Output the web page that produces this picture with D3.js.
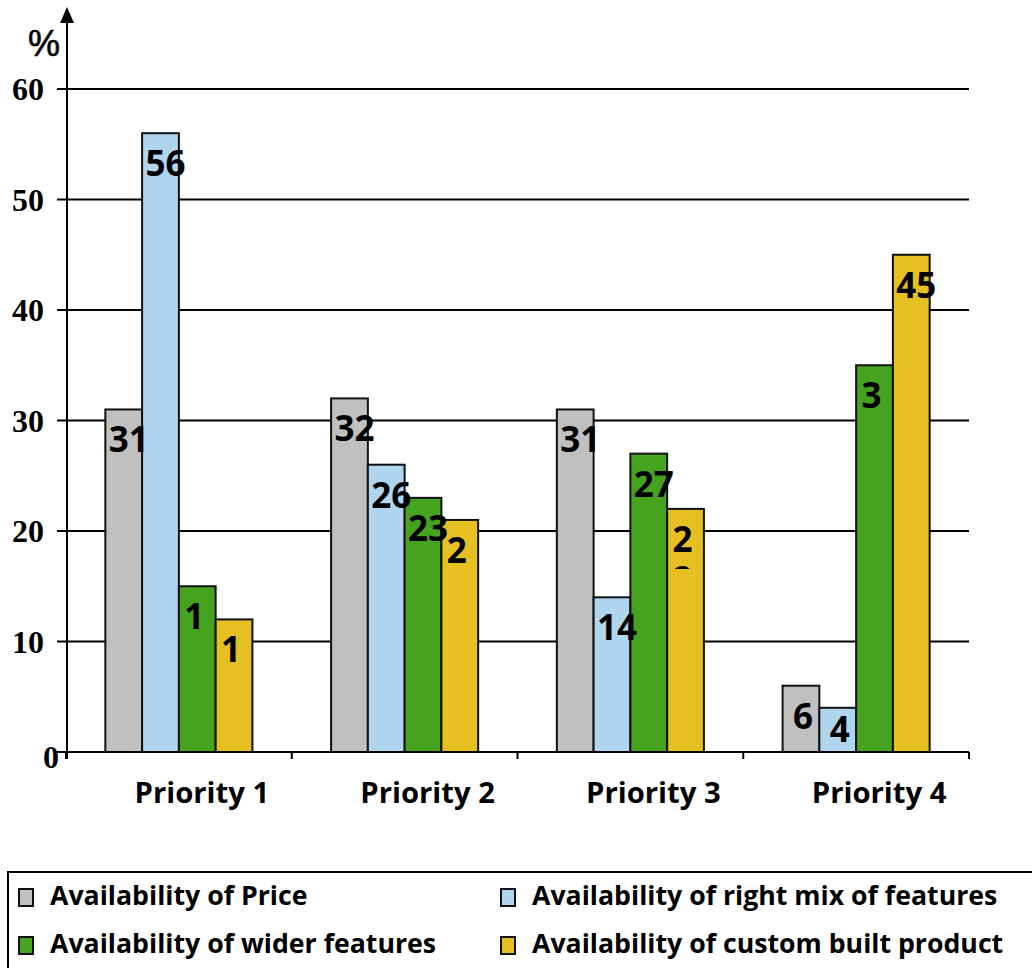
<!DOCTYPE html>
<html>
<head>
<meta charset="utf-8">
<script src="https://cdn.jsdelivr.net/npm/d3@7"></script>
<style>
  html, body { margin: 0; padding: 0; background: #fff; }
  svg { display: block; }
</style>
</head>
<body>
<svg id="chart" width="1032" height="968"></svg>
<script>
// ---- data ----
const categories = ["Priority 1", "Priority 2", "Priority 3", "Priority 4"];
const seriesNames = [
  "Availability of Price",
  "Availability of right mix of features",
  "Availability of wider features",
  "Availability of custom built product"
];
const seriesColors = ["#c0c0c0", "#b0d5ef", "#45a31f", "#e6bf22"];
const priceValues    = [31, 32, 31, 6];
const rightMixValues = [56, 26, 14, 4];
const widerValues    = [15, 23, 27, 35];
const customValues   = [12, 21, 22, 45];
// label text as displayed in the original (some labels are wrapped and cut)
const priceLabels    = ["31", "32", "31", "6"];
const rightMixLabels = ["56", "26", "14", "4"];
const widerLabels    = ["1", "23", "27", "3"];
const customLabels   = ["1", "2", "2", "45"];
const yTicks = [0, 10, 20, 30, 40, 50, 60];

const seriesValues = [priceValues, rightMixValues, widerValues, customValues];
const seriesLabels = [priceLabels, rightMixLabels, widerLabels, customLabels];

// ---- layout ----
const svg = d3.select("#chart");
const plotLeft = 66, plotRight = 969, plotTop = 89, plotBottom = 752;

const x = d3.scaleBand().domain(categories).range([plotLeft, plotRight]).paddingInner(0).paddingOuter(0);
const xs = d3.scaleBand().domain(d3.range(4)).range([0, x.bandwidth()]).paddingInner(0).paddingOuter(1.07);
const y = d3.scaleLinear().domain([0, 60]).range([plotBottom, plotTop]);

const sansFont = "'Open Sans', 'DejaVu Sans', sans-serif";
const serifFont = "'Liberation Serif', 'DejaVu Serif', serif";

// gridlines
svg.append("g").selectAll("line").data(yTicks.filter(d => d > 0)).join("line")
  .attr("x1", plotLeft - 9).attr("x2", plotRight)
  .attr("y1", d => y(d)).attr("y2", d => y(d))
  .attr("stroke", "#000").attr("stroke-width", 2);

// y tick labels
svg.append("g").selectAll("text").data(yTicks).join("text")
  .attr("x", d => d === 0 ? 59 : 44)
  .attr("y", d => d === 0 ? y(d) + 16 : y(d) + 11)
  .attr("text-anchor", "end")
  .attr("font-family", serifFont).attr("font-weight", "bold").attr("font-size", 32)
  .attr("fill", "#000")
  .text(d => d);

// bars
const rows = [];
categories.forEach((c, ci) => {
  seriesValues.forEach((vals, si) => {
    rows.push({ cat: c, si, value: vals[ci], label: seriesLabels[si][ci] });
  });
});

const barG = svg.append("g");
barG.selectAll("rect").data(rows).join("rect")
  .attr("x", d => x(d.cat) + xs(d.si))
  .attr("y", d => y(d.value))
  .attr("width", xs.bandwidth())
  .attr("height", d => y(0) - y(d.value))
  .attr("fill", d => seriesColors[d.si])
  .attr("stroke", "#111").attr("stroke-width", 2);

// data labels
barG.selectAll("text.lbl").data(rows).join("text")
  .attr("class", "lbl")
  .attr("x", d => {
    const cx = x(d.cat) + xs(d.si) + xs.bandwidth() / 2;
    const full = d.label === String(d.value);
    if (!full) return cx - 3;
    return cx + (d.label.length === 2 ? 5 : 2);
  })
  .attr("y", d => Math.min(y(d.value) + 43, y(0) - 10))
  .attr("text-anchor", "middle")
  .attr("font-family", sansFont).attr("font-weight", "bold").attr("font-size", 35)
  .attr("fill", "#000")
  .text(d => d.label);

// clipped second line of the "22" label (only a sliver visible)
const cut = rows.find(d => d.cat === "Priority 3" && d.si === 3);
const clip = svg.append("defs").append("clipPath").attr("id", "cutclip");
clip.append("rect")
  .attr("x", x(cut.cat) + xs(cut.si)).attr("y", y(cut.value) + 57)
  .attr("width", xs.bandwidth()).attr("height", 3);
svg.append("text")
  .attr("clip-path", "url(#cutclip)")
  .attr("x", x(cut.cat) + xs(cut.si) + xs.bandwidth() / 2 - 3)
  .attr("y", y(cut.value) + 83)
  .attr("text-anchor", "middle")
  .attr("font-family", sansFont).attr("font-weight", "bold").attr("font-size", 35)
  .text(String(cut.value).slice(1));

// x axis line
svg.append("line")
  .attr("x1", plotLeft - 9).attr("x2", plotRight)
  .attr("y1", y(0)).attr("y2", y(0))
  .attr("stroke", "#000").attr("stroke-width", 2);
// x ticks at band boundaries
const bounds = categories.map(c => x(c)).concat([plotRight]);
svg.append("g").selectAll("line").data(bounds).join("line")
  .attr("x1", d => d).attr("x2", d => d)
  .attr("y1", y(0)).attr("y2", y(0) + 7)
  .attr("stroke", "#000").attr("stroke-width", 2);

// y axis line with arrow
svg.append("line")
  .attr("x1", plotLeft + 1).attr("x2", plotLeft + 1)
  .attr("y1", y(0) + 7).attr("y2", 20)
  .attr("stroke", "#000").attr("stroke-width", 2);
svg.append("path")
  .attr("d", `M${plotLeft + 1},7 L${plotLeft - 6},23 L${plotLeft + 8},23 Z`)
  .attr("fill", "#000");

// % label
svg.append("text")
  .attr("x", 28).attr("y", 56)
  .attr("font-family", "'Liberation Sans', Arial, sans-serif").attr("font-size", 36)
  .attr("fill", "#000").attr("stroke", "#000").attr("stroke-width", 0.6)
  .text("%");

// category labels
svg.append("g").selectAll("text").data(categories).join("text")
  .attr("x", d => x(d) + x.bandwidth() / 2 + 23)
  .attr("y", 803)
  .attr("text-anchor", "middle")
  .attr("font-family", sansFont).attr("font-weight", "bold").attr("font-size", 29.3)
  .attr("fill", "#000")
  .text(d => d);

// legend
svg.append("rect")
  .attr("x", 8).attr("y", 872).attr("width", 1040).attr("height", 120)
  .attr("fill", "none").attr("stroke", "#000").attr("stroke-width", 2);

const legCols = [18, 500];
const legRows = [905, 953];
const lg = svg.append("g").selectAll("g").data(seriesNames).join("g")
  .attr("transform", (d, i) => `translate(${legCols[i % 2]},${legRows[Math.floor(i / 2)]})`);
lg.append("rect")
  .attr("x", 1).attr("y", -16).attr("width", 14).attr("height", 17)
  .attr("fill", (d, i) => seriesColors[i])
  .attr("stroke", "#111").attr("stroke-width", 2);
lg.append("text")
  .attr("x", 32).attr("y", 0)
  .attr("font-family", sansFont).attr("font-weight", "bold").attr("font-size", 26.7)
  .attr("fill", "#000")
  .text(d => d);
</script>
</body>
</html>
